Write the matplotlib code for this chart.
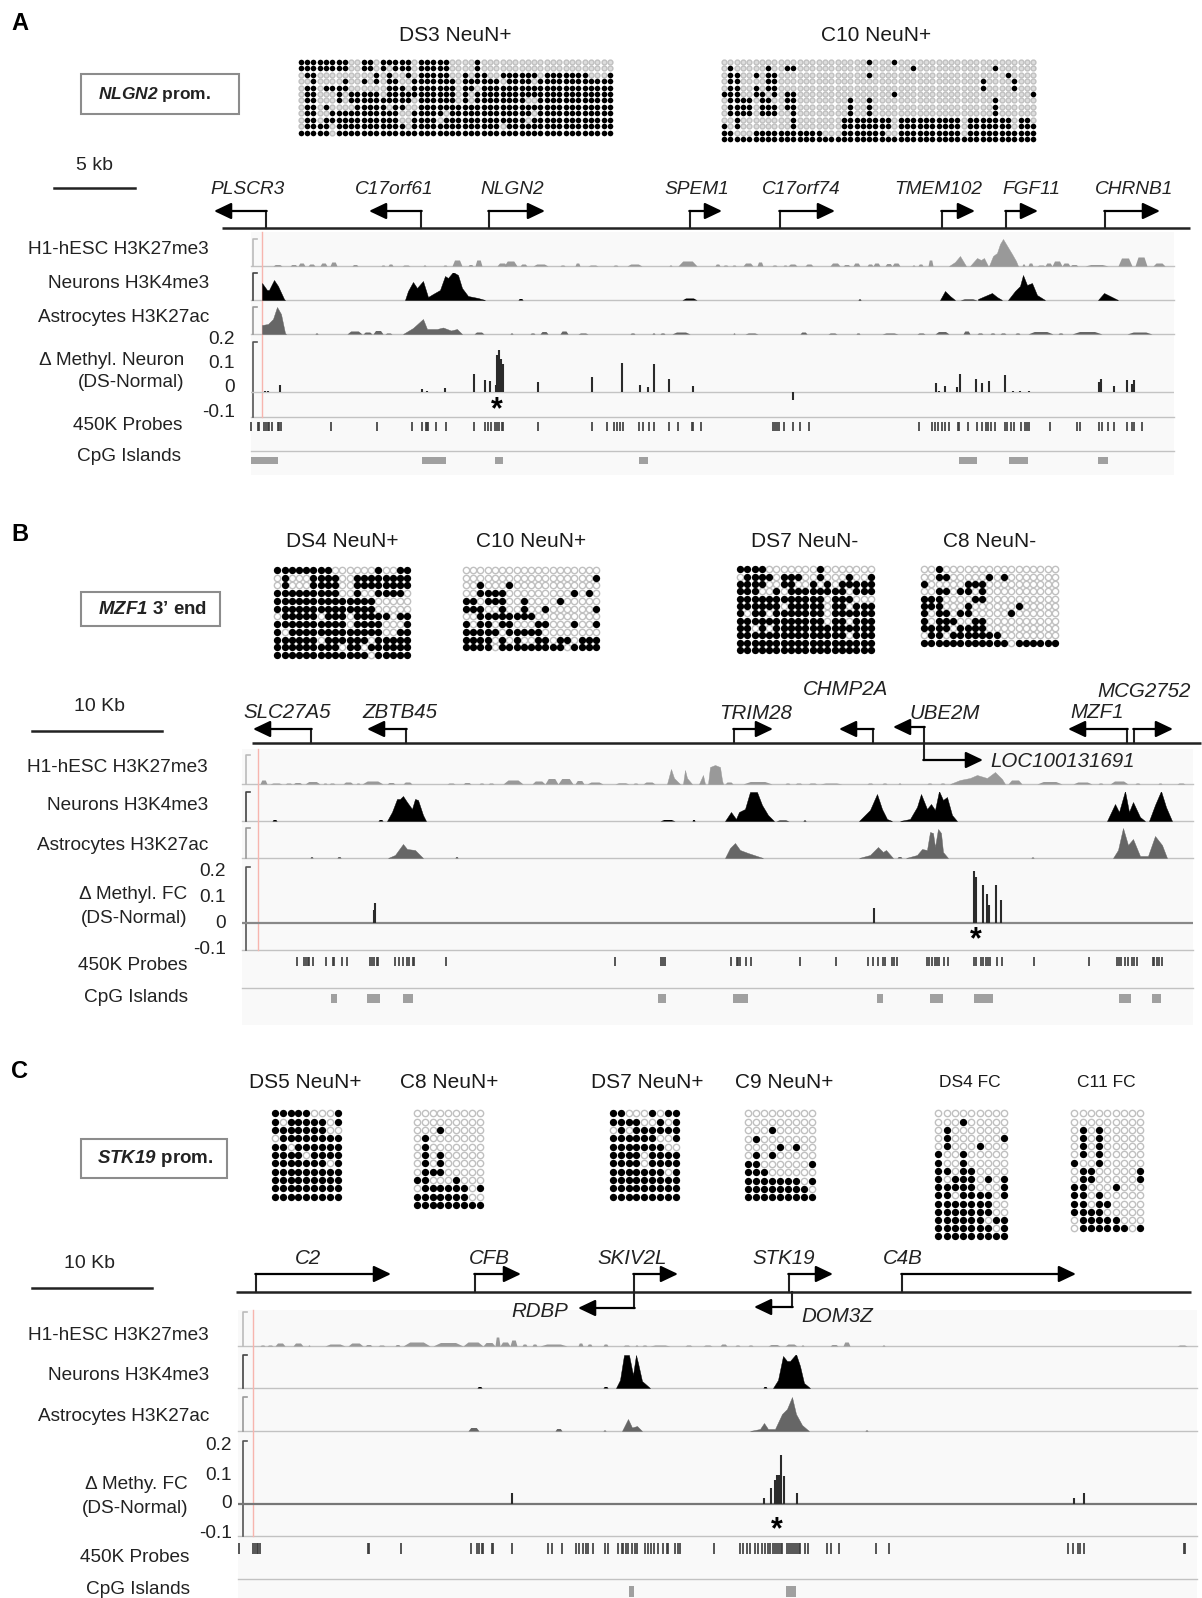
import matplotlib
matplotlib.use('Agg')
import matplotlib.pyplot as plt

plt.rcParams['font.family'] = ['Liberation Sans', 'DejaVu Sans']
plt.rcParams['mathtext.fontset'] = 'custom'
plt.rcParams['mathtext.bfit'] = 'Liberation Sans:italic:bold'
plt.rcParams['mathtext.rm'] = 'Liberation Sans'
plt.rcParams['mathtext.it'] = 'Liberation Sans:italic'
plt.rcParams['mathtext.bf'] = 'Liberation Sans:bold'

W, H = 1202, 1598
LABEL_SIZE = 13.7
TEXT_DY = 1.8

# ---- bisulfite grids: each row lists the methylated columns
DS3_A = ['0-7 10-11 13-17 19-23 28', '0-7 10-11 13 15-17 19-23 28', '1-2 12 14 17 19-23 26 28-29 32-37 39-45 49',
         '2 7 10 12 14-15 18-24 26-31 33-36 38-49', '1-2 4-7 14-16 18-24 26-27 29-49', '1-2 6 8-12 14-17 18-24 26 28-49',
         '1-2 6 8-13 14-17 19-24 26 28-35 38-49', '1-2 4 9-13 15-16 19-49', '1-2 5-15 18-22 24-36 38-49',
         '1-2 4-15 18-21 23-35 37-49', '1-4 6-16 18-31 33-49', '0-4 6-49']
C10_A = ['23 27', '1 7 10-11 30 43', '1-2 5 7-8 23 45', '1-2 7-8 41 46', '1-2 5 7-8 41 46', '0-2 5-6 8 10-11 27 49',
         '1-4 6-7 10-11 20 23 43', '1-4 6-8 10-11 20 23 43', '1-4 6-8 11 20 23 43', '2 11 19-26 28-37 39-45 47-48',
         '0 2 11 19-26 28-37 39-45 47-49', '0-1 5-10 11-15 19-25 28-37 39-49', '0-16 17 18-49']
DS4_B = ['0-7 14 17-18', '1 5-8 11-18', '1 5-8 11-18', '0-8 11 14-15 16-17', '0-13', '0-13', '1-5 7-9 11-15 17-18',
         '0-9 11-14 18', '0 2-14 17-18', '0-5 7-12 14-18', '0-8 10-11 13-18', '0-12 14-18']
C10_B = ['', '18', '2 6', '2-5 15 17', '0-1 3-5 8 13', '0-2 5 8 11 18', '2-9', '0 2-3 5-6 10-11 15 18', '0-4 6-10',
         '0-3 5 7 10-11 13-14 16-18', '0-3 5-10 11-13 15-18']
DS7_B = ['0-3 11', '1-4 6-8 11 15 18', '0-3 6-7 10 12 14-18', '0-2 5 7-14 16-18', '0-11 13-15', '0-5 7-11 13-14 16-18',
         '0 2-3 5-11 13-18', '0-11 13-14 16-18', '0-1 3 5-18', '0-14 16-18', '0-18', '0-18']
C8_B = ['2', '2-3 9 11', '0 6-8', '2-3 5-6 8', '0-2 7-8', '0-2 6 13', '0 2-3 5-6 12', '0 2-4 7-8', '0-3 5-8',
        '1-2 4-10', '0-11 13-18']
DS5_C = ['0-4 8', '0 2-6 8', '0-6', '1-8', '0-1 3-8', '0-3 5-8', '0-6 8', '0-8', '0-8', '0-8', '0-8']
C8_C = ['', '', '3', '1', '1', '1 3', '1 3', '1-3', '0-1 5', '1-6 8', '0-6', '0-8']
DS7_C = ['0-1 5 7-8', '0-3 6 8', '1 3-8', '0-5 8', '0-6', '0-3 5-8', '0-3 5-8', '0-6 8', '0-8', '0-8', '0-8']
C9_C = ['', '', '3', '1', '4 6', '1 3', '0-1 8', '0-2', '0-6 8', '0-7', '0-8']
DS4_FC = ['', '3', '1', '1 8', '1 5', '0 3', '0 3', '0-1 3-4', '0 2-4 6 8', '0-4 8', '0-1 3-6 8', '0-6', '0-6',
          '0-5 7-8', '0-6 8', '0-8']
C11_FC = ['', '', '1 3', '1 3', '1 3', '1 3', '0 3', '1-2 8', '1-2 8', '0-1 5', '0-1 3', '0-1 3-4', '0-3', '1-5', '1-6 8']

# title, rows, n columns, x0, y0, dx, dy, dot size, title x, title y, font size
GRIDS = [('DS3 NeuN+', DS3_A, 50, 300.7, 61.7, 6.31, 6.45, 5.6, 455, 34, 15),
         ('C10 NeuN+', C10_A, 50, 724, 61.7, 6.31, 6.45, 5.6, 876, 34, 15),
         ('DS4 NeuN+', DS4_B, 19, 277.3, 570, 7.22, 7.73, 7.3, 342, 540, 15),
         ('C10 NeuN+', C10_B, 19, 466, 570, 7.22, 7.73, 7.3, 531, 540, 15),
         ('DS7 NeuN-', DS7_B, 19, 740, 569.3, 7.27, 7.35, 7.3, 805, 540, 15),
         ('C8 NeuN-', C8_B, 19, 924, 569.3, 7.27, 7.35, 7.3, 990, 540, 15),
         ('DS5 NeuN+', DS5_C, 9, 274.7, 1113.3, 7.9, 8.33, 7.3, 305, 1081, 15),
         ('C8 NeuN+', C8_C, 9, 416.7, 1113.3, 7.9, 8.33, 7.3, 449, 1081, 15),
         ('DS7 NeuN+', DS7_C, 9, 612.7, 1113.3, 7.9, 8.33, 7.3, 647, 1081, 15),
         ('C9 NeuN+', C9_C, 9, 747.7, 1113.3, 8.05, 8.4, 7.3, 784, 1081, 15),
         ('DS4 FC', DS4_FC, 9, 938.3, 1113.3, 8.25, 8.2, 7.3, 970, 1081, 12.5),
         ('C11 FC', C11_FC, 9, 1074.3, 1113.3, 8.25, 8.2, 7.3, 1106, 1081, 12.5)]

# ---- gene models: name, tss, arrow tip, arrow y, label x, label y
GENES_A = [('PLSCR3', 266, 214, 211, 248, 188), ('C17orf61', 421, 369, 211, 394, 188), ('NLGN2', 489, 545, 211, 512, 188),
           ('SPEM1', 690, 722, 211, 697, 188), ('C17orf74', 780, 835, 211, 801, 188), ('TMEM102', 942, 975, 211, 938, 188),
           ('FGF11', 1006, 1038, 211, 1031, 188), ('CHRNB1', 1105, 1160, 211, 1134, 188)]
GENES_B = [('SLC27A5', 311, 253, 729, 287, 711), ('ZBTB45', 406, 367, 729, 400, 711), ('TRIM28', 734, 773, 729, 756, 712),
           ('CHMP2A', 873, 839, 729, 845, 688), ('UBE2M', 924, 893, 727, 945, 712), ('LOC100131691', 924, 983, 760, 1063, 760),
           ('MZF1', 1127, 1068, 729, 1097, 711), ('MCG2752', 1134, 1173, 729, 1144, 690)]
GENES_C = [('C2', 256, 391, 1274, 308, 1257), ('CFB', 475, 521, 1274, 489, 1257), ('SKIV2L', 634, 678, 1274, 632, 1257),
           ('STK19', 789, 833, 1274, 784, 1257), ('C4B', 902, 1076, 1274, 903, 1257), ('RDBP', 634, 578, 1308, 540, 1310),
           ('DOM3Z', 792, 754, 1307, 837, 1315)]

# ---- chip-seq tracks: small bumps (start, end, height) and larger peaks (x, height)
A_H1_BUMPS = [(273, 282, 1.5), (290, 297, 1.5), (298, 305, 3), (308, 315, 2), (320, 327, 3), (330, 337, 4), (352, 358, 1.5),
              (381, 385, 1), (388, 393, 2), (402, 410, 1), (423, 426, 1), (443, 447, 1), (452, 462, 6), (468, 473, 1.5),
              (475, 482, 6), (497, 507, 3), (504, 517, 5), (520, 527, 2), (533, 548, 2), (560, 565, 1), (575, 580, 3), (588, 598, 1),
              (613, 618, 1), (627, 642, 2), (669, 672, 1), (678, 697, 5), (715, 720, 2), (723, 728, 1), (732, 736, 1),
              (743, 753, 3), (757, 763, 4), (772, 777, 1), (783, 787, 1), (788, 797, 2), (805, 813, 2), (830, 840, 3),
              (843, 850, 1.5), (853, 860, 3), (867, 873, 2), (873, 880, 3), (885, 892, 2.5), (892, 900, 3), (912, 915, 1), (918, 923, 2),
              (928, 933, 6), (1022, 1025, 2), (1028, 1033, 3), (1037, 1045, 1), (1045, 1052, 3), (1052, 1062, 5), (1062, 1070, 3),
              (1070, 1078, 1.5), (1085, 1108, 1.5), (1118, 1132, 8), (1135, 1147, 9), (1153, 1165, 3)]
A_H1_PEAKS = [[(949, 0), (955, 4), (960, 10), (963, 5), (966, 0)], [(970, 0), (977, 8), (981, 6), (984, 8), (988, 0)],
              [(989, 0), (993, 10), (997, 13), (1000, 22), (1003, 27), (1006, 22), (1012, 12), (1016, 5), (1018, 0)]]
A_NEU_BUMPS = [(518, 523, 1.5), (682, 697, 2), (858, 861, 1), (960, 977, 1)]
A_NEU_PEAKS = [[(262, 0), (262, 17), (267, 10), (269, 10), (274, 20), (278, 14), (284, 1), (285, 0)],
               [(405, 0), (408, 9), (413, 18), (417, 12), (423, 19), (428, 3), (433, 6), (440, 10), (445, 24), (448, 22),
                (453, 28), (458, 25), (462, 12), (468, 4), (478, 2), (485, 0)],
               [(940, 0), (945, 9), (950, 4), (955, 0)], [(978, 1), (985, 4), (992, 7), (997, 3), (1002, 0)],
               [(1008, 0), (1015, 9), (1020, 14), (1023, 25), (1027, 15), (1032, 17), (1037, 5), (1045, 0)],
               [(1098, 0), (1104, 7), (1110, 4), (1118, 0)]]
A_AST_BUMPS = [(315, 318, 1), (347, 362, 3), (363, 372, 2), (373, 383, 3.5), (385, 392, 1), (474, 484, 2), (510, 513, 1),
               (530, 535, 1), (540, 548, 2.5), (560, 568, 3), (578, 588, 1), (630, 635, 1), (652, 655, 1), (660, 665, 1),
               (672, 690, 2), (733, 735, 1), (745, 758, 1), (800, 807, 2), (828, 837, 1), (856, 860, 1), (882, 898, 1),
               (917, 925, 1), (935, 949, 2.5), (963, 970, 3), (977, 983, 1), (990, 995, 1), (1000, 1006, 1), (1015, 1020, 1),
               (1028, 1053, 2.5), (1058, 1063, 1), (1072, 1102, 2.5), (1127, 1152, 2)]
A_AST_PEAKS = [[(262, 0), (262, 9), (268, 10), (273, 15), (277, 27), (281, 20), (285, 1), (286, 0)],
               [(403, 0), (413, 6), (423, 15), (427, 5), (437, 5), (443, 6.5), (451, 3.5), (457, 5), (462, 0)]]

B_H1_BUMPS = [(260, 267, 4), (270, 282, 1), (285, 292, 1), (293, 302, 1.5), (305, 320, 2.5), (323, 327, 1), (329, 335, 1),
              (343, 353, 2), (356, 360, 1), (362, 383, 3), (387, 395, 1.5), (403, 412, 2), (447, 455, 1), (463, 471, 1.5),
              (479, 484, 1), (488, 494, 1), (503, 523, 4), (532, 545, 3), (545, 558, 5.5), (558, 573, 5.5), (575, 584, 3.5),
              (587, 603, 2), (615, 629, 1.2), (633, 638, 1), (643, 655, 2), (725, 733, 2), (743, 772, 2.5), (785, 790, 1),
              (795, 802, 1), (808, 817, 1), (820, 842, 1), (867, 873, 1), (882, 887, 1), (898, 901, 1), (927, 932, 1),
              (940, 945, 1), (1008, 1022, 4), (1037, 1062, 2.5), (1073, 1092, 2), (1098, 1103, 1), (1110, 1128, 3),
              (1135, 1140, 1), (1158, 1162, 1), (1177, 1185, 1)]
B_H1_PEAKS = [[(667, 0), (671, 15), (674, 6), (680, 0)], [(683, 0), (685, 14), (687, 6), (692, 0)], [(699, 0), (703, 9), (705, 0)],
              [(708, 0), (710, 17), (715, 19), (720, 17), (722, 4), (723, 0)],
              [(950, 0), (960, 4), (970, 6), (977, 9), (987, 6), (995, 12), (1002, 5), (1005, 0)]]
B_NEU_BUMPS = [(272, 277, 1.5), (378, 383, 1.5), (660, 675, 1.5), (692, 695, 1.5), (776, 789, 1), (803, 806, 1)]
B_NEU_PEAKS = [[(387, 0), (392, 9), (397, 22), (400, 22), (403, 25), (407, 19), (412, 12), (415, 22), (418, 21), (423, 6), (426, 0)],
               [(725, 0), (731, 9), (736, 2), (739, 9), (745, 12), (750, 29), (757, 29), (762, 16), (768, 6), (774, 0)],
               [(859, 0), (870, 11), (877, 27), (882, 12), (887, 2), (892, 0)],
               [(900, 0), (910, 2), (917, 14), (921, 27), (927, 12), (931, 17), (935, 11), (939, 30), (943, 21), (947, 24),
                (952, 6), (957, 0)],
               [(1107, 0), (1115, 17), (1119, 9), (1125, 30), (1129, 9), (1133, 19), (1140, 4), (1145, 0)],
               [(1149, 0), (1155, 16), (1161, 30), (1166, 14), (1172, 0)]]
B_AST_BUMPS = [(310, 313, 1.5), (337, 341, 1.5), (455, 458, 1.5), (897, 902, 1.5), (1031, 1034, 1)]
B_AST_PEAKS = [[(388, 0), (395, 3), (403, 14), (407, 9), (415, 8), (423, 0)],
               [(725, 0), (730, 10), (735, 15), (740, 8), (748, 5), (763, 0)],
               [(859, 0), (870, 3), (878, 11), (883, 6), (886, 8), (893, 0)],
               [(906, 0), (917, 3), (922, 9), (927, 8), (930, 26), (933, 25), (935, 11), (938, 29), (941, 25), (943, 6), (948, 0)],
               [(1113, 0), (1118, 8), (1123, 30), (1128, 13), (1133, 19), (1140, 2), (1148, 2), (1155, 22), (1162, 13), (1167, 0)]]

C_H1_BUMPS = [(260, 265, 1), (267, 273, 1), (275, 285, 3), (293, 303, 3), (308, 310, 1), (325, 345, 2), (348, 363, 3),
              (365, 372, 1.5), (378, 385, 1), (395, 400, 1.5), (403, 430, 4), (433, 463, 3.5), (463, 483, 4), (483, 495, 3.5),
              (495, 500, 9), (500, 510, 4), (510, 517, 6), (522, 527, 2), (532, 537, 2), (540, 567, 2), (578, 583, 3),
              (587, 592, 2), (603, 608, 2), (623, 630, 1), (635, 638, 1), (642, 647, 1), (650, 670, 1), (685, 692, 1),
              (703, 712, 1), (720, 727, 2), (735, 740, 1), (748, 753, 1), (768, 780, 1.5), (785, 797, 2), (801, 804, 1),
              (830, 838, 1.5), (843, 850, 4), (882, 885, 1), (1177, 1187, 1)]
C_NEU_BUMPS = [(477, 482, 1.5), (603, 608, 1.5), (763, 767, 1.5)]
C_NEU_PEAKS = [[(616, 0), (620, 8), (624, 33), (629, 33), (633, 13), (636, 33), (638, 25), (642, 7), (650, 0)],
               [(773, 0), (778, 8), (783, 32), (787, 27), (790, 27), (796, 34), (800, 22), (804, 5), (810, 0)]]
C_AST_BUMPS = [(468, 479, 3.5), (555, 562, 2.5), (603, 606, 1), (865, 868, 1)]
C_AST_PEAKS = [[(622, 0), (624, 4), (628, 12), (632, 3.5), (637, 5), (642, 0)],
               [(750, 0), (760, 2), (764, 8), (768, 2), (775, 2), (782, 17), (787, 22), (792, 34), (796, 17), (802, 6), (809, 0)]]

# ---- delta methylation: position, value
A_METH_X = [265, 268, 280, 422, 427, 445, 474, 485, 490, 496, 497, 499, 501, 503, 538, 592, 622, 640, 648, 654, 669, 693,
            793, 936, 939, 945, 957, 960, 976, 982, 989, 1005, 1013, 1020, 1029, 1099, 1101, 1114, 1127, 1132, 1134]
A_METH_V = [.004, .004, .029, .012, .003, .016, .073, .049, .045, .029, .151, .171, .135, .114, .041, .061, .118, .029,
            .020, .114, .053, .024, -.033, .037, .004, .024, .020, .073, .053, .037, .045, .069, .004, .003, .003, .041,
            .053, .024, .049, .033, .049]
B_METH_X = [374, 375, 874, 974, 976, 983, 987, 989, 996, 1001]
B_METH_V = [.05, .077, .058, .2, .177, .146, .112, .069, .146, .088]
C_METH_X = [512, 764, 771, 775, 777, 779, 781, 784, 797, 1074, 1084]
C_METH_V = [.038, .021, .055, .083, .1, .1, .169, .097, .038, .021, .038]

# ---- 450K probes
A_PROBES = [251, 258, 259, 264, 266, 268, 269, 272, 278, 279, 281, 331, 377, 412, 422, 426, 427, 428, 436, 446, 474, 485, 488,
            491, 495, 497, 499, 502, 503, 538, 592, 607, 614, 617, 620, 623, 639, 643, 649, 654, 669, 678, 692, 693, 701,
            773, 775, 777, 779, 784, 793, 800, 809, 919, 932, 935, 938, 942, 945, 949, 958, 959, 968, 977, 982, 986, 988,
            991, 995, 1005, 1007, 1011, 1014, 1021, 1025, 1027, 1029, 1050, 1077, 1080, 1099, 1102, 1108, 1114, 1127, 1132,
            1134, 1142]
B_PROBES = [297, 304, 306, 308, 309, 313, 326, 333, 334, 342, 347, 370, 372, 374, 377, 378, 395, 399, 403, 407, 409, 413, 414,
            446, 615, 661, 663, 665, 731, 737, 738, 740, 746, 751, 800, 836, 868, 873, 878, 883, 885, 892, 894, 897, 927,
            929, 932, 935, 937, 939, 944, 948, 974, 976, 981, 983, 986, 988, 990, 997, 1002, 1034, 1089, 1117, 1119, 1121,
            1125, 1128, 1132, 1134, 1137, 1153, 1154, 1157, 1159, 1162]
C_PROBES = [239, 253, 255, 257, 258, 260, 368, 369, 401, 471, 477, 479, 482, 483, 492, 493, 512, 548, 552, 562, 576, 579, 583,
            586, 588, 593, 605, 608, 618, 622, 623, 626, 628, 632, 635, 637, 645, 648, 651, 654, 658, 663, 667, 668, 675,
            678, 680, 714, 740, 743, 747, 750, 755, 758, 762, 765, 768, 770, 773, 775, 777, 779, 781, 782, 787, 789, 791,
            793, 795, 797, 799, 800, 805, 808, 827, 831, 839, 876, 889, 1068, 1073, 1078, 1080, 1084, 1184, 1185]

# ---- CpG islands: start, end
A_CPG = [(251, 278), (422, 446), (495, 503), (639, 648), (959, 977), (1009, 1028), (1098, 1108)]
B_CPG = [(331, 337), (367, 380), (403, 413), (658, 666), (733, 748), (877, 883), (930, 943), (974, 993), (1119, 1131), (1152, 1161)]
C_CPG = [(629, 634), (786, 796)]

METH_TICKS = [0.2, 0.1, 0, -0.1]
TRACK_NAMES = ['H1-hESC H3K27me3', 'Neurons H3K4me3', 'Astrocytes H3K27ac']
TRACK_COLORS = ['#999999', '#000000', '#666666']
BRACKET_COLORS = ['#bbbbbb', '#444444', '#999999']

PANELS = [
    dict(letter='A', letter_y=22, genes=GENES_A, line=(222, 1190, 228),
         bg=(251, 1174, 232, 475), red=262, bracket_x=253,
         tops=[239, 273, 307], bases=[266, 300, 334], meth=(342, 417, 392, 24.5), meth_line=('#c4c4c4', 1),
         probes_y=(422, 431), sep_y=451, cpg_y=(457, 464), tick_x=235, tick_off=-4,
         signals=[(A_H1_BUMPS, A_H1_PEAKS), (A_NEU_BUMPS, A_NEU_PEAKS), (A_AST_BUMPS, A_AST_PEAKS)],
         meth_x=A_METH_X, meth_v=A_METH_V, probe_x=A_PROBES, cpg=A_CPG, star=(497, 410),
         scale=(54, 135, 188, '5 kb', 94, 164), box=(81, 239, 74, 114, r'$\bfit{NLGN2}$ prom.', 154, 12.5),
         name_x=209, name_y=[248, 282, 316], meth_label=('Δ Methyl. Neuron', 184, 359, 381),
         probe_label=(182, 424), cpg_label=(181, 455), gene_size=13.8),
    dict(letter='B', letter_y=533, genes=GENES_B, line=(252, 1201, 743),
         bg=(242, 1193, 749, 1025), red=258, bracket_x=246,
         tops=[755, 792, 828], bases=[784, 821, 858], meth=(867, 950, 923, 26), meth_line=('#888888', 1.6),
         probes_y=(957, 966), sep_y=988, cpg_y=(994, 1003), tick_x=226, tick_off=0,
         signals=[(B_H1_BUMPS, B_H1_PEAKS), (B_NEU_BUMPS, B_NEU_PEAKS), (B_AST_BUMPS, B_AST_PEAKS)],
         meth_x=B_METH_X, meth_v=B_METH_V, probe_x=B_PROBES, cpg=B_CPG, star=(976, 940),
         scale=(32, 162, 731, '10 Kb', 100, 705), box=(81, 220, 592, 626, '$\\bfit{MZF1}$ 3’ end', 153, 13.5),
         name_x=208, name_y=[766, 804, 844], meth_label=('Δ Methyl. FC', 187, 893, 917),
         probe_label=(187, 964), cpg_label=(188, 996), gene_size=14.8),
    dict(letter='C', letter_y=1070, genes=GENES_C, line=(236, 1191, 1292),
         bg=(238, 1197, 1310, 1598), red=253, bracket_x=243,
         tops=[1312, 1355, 1397], bases=[1346, 1388, 1431], meth=(1441, 1536, 1504, 29), meth_line=('#777777', 1.6),
         probes_y=(1543, 1554), sep_y=1579, cpg_y=(1586, 1597), tick_x=232, tick_off=0,
         signals=[(C_H1_BUMPS, []), (C_NEU_BUMPS, C_NEU_PEAKS), (C_AST_BUMPS, C_AST_PEAKS)],
         meth_x=C_METH_X, meth_v=C_METH_V, probe_x=C_PROBES, cpg=C_CPG, star=(777, 1530),
         scale=(32, 152, 1288, '10 Kb', 90, 1262), box=(81, 227, 1139, 1178, r'$\bfit{STK19}$ prom.', 155, 13.5),
         name_x=209, name_y=[1334, 1374, 1415], meth_label=('Δ Methy. FC', 188, 1483, 1507),
         probe_label=(189, 1556), cpg_label=(190, 1588), gene_size=14.8),
]


def parse_row(row):
    cols = set()
    for part in row.split():
        if '-' in part:
            a, b = part.split('-')
            cols.update(range(int(a), int(b) + 1))
        else:
            cols.add(int(part))
    return cols


def track_axes(fig, x0, x1, ytop, ybot, ymin, ymax):
    """Transparent axes sitting on a pixel box of the page."""
    ax = fig.add_axes([x0 / W, 1 - ybot / H, (x1 - x0) / W, (ybot - ytop) / H])
    ax.set_xlim(x0, x1)
    ax.set_ylim(ymin, ymax)
    ax.axis('off')
    ax.patch.set_alpha(0)
    return ax


def draw_grid(ax, title, rows, ncol, x0, y0, dx, dy, size, tx, ty, fs):
    s = (size * 0.72) ** 2
    ox, oy, fx, fy = [], [], [], []
    for r, row in enumerate(rows):
        on = parse_row(row)
        for c in range(ncol):
            if c in on:
                fx.append(x0 + c * dx)
                fy.append(y0 + r * dy)
            else:
                ox.append(x0 + c * dx)
                oy.append(y0 + r * dy)
    # the tight grids of panel A blur into flat grey in the original
    face = '#dddddd' if dx < 6.5 else 'white'
    ax.scatter(ox, oy, s=s * 0.75, facecolor=face, edgecolor='#c0c0c0', linewidth=1.0, zorder=3)
    ax.scatter(fx, fy, s=s, color='black', linewidth=0, zorder=4)
    ax.text(tx, ty + TEXT_DY, title, ha='center', va='center', fontsize=fs, color='#1a1a1a')


def draw_genes(ax, genes, line, size):
    x0, x1, y = line
    ax.plot([x0, x1], [y, y], color='#222222', lw=1.8, solid_capstyle='butt', zorder=3)
    for name, tss, tip, ay, lx, ly in genes:
        ax.plot([tss, tss], [y, ay], color='#222222', lw=1.5, zorder=3)
        ax.annotate('', xy=(tip, ay), xytext=(tss - (0.7 if tip > tss else -0.7), ay),
                    arrowprops=dict(arrowstyle='-|>,head_length=1.05,head_width=0.5', color='black', lw=1.6,
                                    shrinkA=0, shrinkB=0), zorder=3)
        ax.text(lx, ly + TEXT_DY, name, ha='center', va='center', style='italic', fontsize=size, color='#222222')


def draw_signal(ax, bumps, peaks, color):
    for a, b, h in bumps:
        ax.fill_between([a, a + (b - a) * 0.25, b - (b - a) * 0.25, b], 0, [0, h, h, 0], color=color, linewidth=0)
    for peak in peaks:
        xs = [p[0] for p in peak]
        hs = [p[1] for p in peak]
        ax.fill_between(xs, 0, hs, color=color, linewidth=0.3)


def label(ax, x, y, txt, ha='right', size=LABEL_SIZE):
    ax.text(x, y + TEXT_DY, txt, ha=ha, va='center', fontsize=size, color='#222222')


fig = plt.figure(figsize=(W / 100, H / 100), dpi=100, facecolor='white')
page = fig.add_axes([0, 0, 1, 1])
page.set_xlim(0, W)
page.set_ylim(H, 0)
page.axis('off')

for g in GRIDS:
    draw_grid(page, *g)

for p in PANELS:
    page.text(20, p['letter_y'] + TEXT_DY, p['letter'], fontsize=17, fontweight='bold', ha='center', va='center')

    # scale bar and the boxed region name
    sx0, sx1, sy, stxt, stx, sty = p['scale']
    page.plot([sx0, sx1], [sy, sy], color='#222222', lw=1.8)
    label(page, stx, sty, stxt, ha='center', size=14)
    bx0, bx1, by0, by1, btxt, btx, bfs = p['box']
    page.add_patch(plt.Rectangle((bx0, by0), bx1 - bx0, by1 - by0, facecolor='white', edgecolor='#8c8c8c', lw=1.5))
    page.text(btx, (by0 + by1) / 2, btxt, ha='center', va='center', fontsize=bfs, fontweight='bold', color='#222222')

    draw_genes(page, p['genes'], p['line'], p['gene_size'])

    # browser background and separators
    x0, x1, y0, y1 = p['bg']
    page.add_patch(plt.Rectangle((x0, y0), x1 - x0, y1 - y0, facecolor='#f9f9f9', edgecolor='none', zorder=0))
    mtop, mbot, mzero, per_tenth = p['meth']
    for yy in p['bases'] + [mbot, p['sep_y']]:
        page.plot([x0, x1], [yy, yy], color='#c2c2c2', lw=1, zorder=1)
    page.plot([p['red'], p['red']], [y0, mbot], color='#f7b5ae', lw=1, zorder=1)

    # the three signal tracks
    for i in range(3):
        top, base = p['tops'][i], p['bases'][i]
        ax = track_axes(fig, x0, x1, top, base, 0, base - top)
        draw_signal(ax, p['signals'][i][0], p['signals'][i][1], TRACK_COLORS[i])
        bx = p['bracket_x']
        page.plot([bx + 4, bx, bx], [top, top, base], color=BRACKET_COLORS[i], lw=1.2, zorder=2)
        label(page, p['name_x'], p['name_y'][i], TRACK_NAMES[i])

    # delta methylation track, on its own value scale
    ymin = (mzero - mbot) / per_tenth / 10
    ymax = (mzero - mtop) / per_tenth / 10
    ax = track_axes(fig, x0, x1, mtop, mbot, ymin, ymax)
    ax.axhline(0, color=p['meth_line'][0], lw=p['meth_line'][1])
    ax.vlines(p['meth_x'], 0, p['meth_v'], color='#2b2b2b', lw=1.5)
    page.plot([p['bracket_x'] + 4, p['bracket_x'], p['bracket_x']], [mtop, mtop, mbot], color='#555555', lw=1.2, zorder=2)
    for t in METH_TICKS:
        label(page, p['tick_x'], mzero - t * 10 * per_tenth + p['tick_off'] - TEXT_DY, str(t))
    page.text(p['star'][0], p['star'][1], '*', ha='center', va='center', fontsize=22, fontweight='bold', zorder=4)
    mname, mx, my1, my2 = p['meth_label']
    label(page, mx, my1, mname)
    label(page, mx, my2, '(DS-Normal)')

    # probes and islands
    page.vlines(p['probe_x'], p['probes_y'][0], p['probes_y'][1], color='#3a3a3a', lw=1.2, zorder=2)
    for a, b in p['cpg']:
        page.add_patch(plt.Rectangle((a, p['cpg_y'][0]), b - a, p['cpg_y'][1] - p['cpg_y'][0], facecolor='#a0a0a0',
                                     edgecolor='none', zorder=2))
    label(page, p['probe_label'][0], p['probe_label'][1], '450K Probes')
    label(page, p['cpg_label'][0], p['cpg_label'][1], 'CpG Islands')

fig.savefig('out.png', dpi=100)
